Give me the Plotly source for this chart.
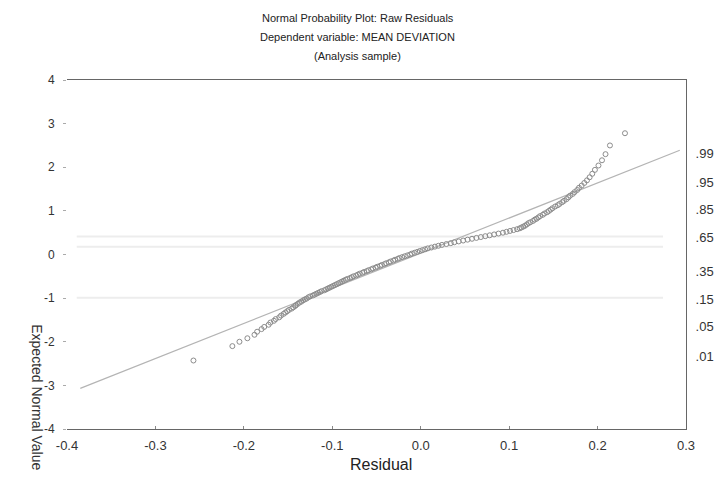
import plotly.graph_objects as go

# Residuals (x) and expected normal values (y)
residuals = [-0.257, -0.213, -0.205, -0.196, -0.188, -0.185, -0.180, -0.177, -0.172, -0.170,
             -0.166, -0.164, -0.160, -0.158, -0.155, -0.153, -0.151, -0.149, -0.146, -0.144,
             -0.142, -0.141, -0.139, -0.137, -0.135, -0.133, -0.131, -0.129, -0.127, -0.125,
             -0.122, -0.120, -0.118, -0.116, -0.114, -0.112, -0.109, -0.107, -0.105, -0.103,
             -0.101, -0.099, -0.097, -0.095, -0.093, -0.091, -0.089, -0.087, -0.085, -0.083,
             -0.080, -0.078, -0.076, -0.073, -0.071, -0.069, -0.066, -0.064, -0.061, -0.059,
             -0.056, -0.054, -0.051, -0.049, -0.046, -0.044, -0.041, -0.039, -0.036, -0.034,
             -0.031, -0.029, -0.026, -0.024, -0.021, -0.018, -0.015, -0.012, -0.010, -0.007,
             -0.004, -0.001, 0.002, 0.005, 0.008, 0.012, 0.016, 0.020, 0.024, 0.029,
             0.034, 0.038, 0.043, 0.048, 0.053, 0.058, 0.063, 0.068, 0.073, 0.078,
             0.083, 0.088, 0.093, 0.097, 0.101, 0.105, 0.109, 0.112, 0.114, 0.116,
             0.118, 0.120, 0.122, 0.124, 0.127, 0.129, 0.131, 0.133, 0.135, 0.138,
             0.140, 0.143, 0.145, 0.147, 0.149, 0.152, 0.155, 0.157, 0.160, 0.162,
             0.165, 0.167, 0.169, 0.172, 0.174, 0.177, 0.179, 0.182, 0.185, 0.188,
             0.191, 0.194, 0.197, 0.201, 0.205, 0.209, 0.214, 0.231]
expected = [-2.43, -2.10, -2.00, -1.92, -1.84, -1.77, -1.71, -1.66, -1.61, -1.56,
            -1.52, -1.48, -1.44, -1.40, -1.36, -1.33, -1.30, -1.27, -1.24, -1.21,
            -1.18, -1.16, -1.13, -1.10, -1.08, -1.05, -1.03, -1.01, -0.98, -0.96,
            -0.94, -0.92, -0.90, -0.88, -0.86, -0.84, -0.82, -0.80, -0.78, -0.76,
            -0.74, -0.72, -0.70, -0.68, -0.66, -0.64, -0.62, -0.60, -0.58, -0.56,
            -0.54, -0.52, -0.50, -0.48, -0.46, -0.44, -0.42, -0.40, -0.38, -0.36,
            -0.34, -0.32, -0.30, -0.28, -0.26, -0.24, -0.22, -0.20, -0.18, -0.16,
            -0.14, -0.12, -0.10, -0.08, -0.06, -0.04, -0.02, 0.00, 0.02, 0.04,
            0.06, 0.08, 0.10, 0.12, 0.14, 0.16, 0.18, 0.20, 0.22, 0.24,
            0.26, 0.28, 0.30, 0.32, 0.34, 0.36, 0.38, 0.40, 0.42, 0.44,
            0.46, 0.48, 0.50, 0.52, 0.54, 0.56, 0.58, 0.60, 0.62, 0.64,
            0.66, 0.69, 0.72, 0.74, 0.77, 0.80, 0.82, 0.85, 0.88, 0.91,
            0.94, 0.97, 1.00, 1.03, 1.06, 1.10, 1.13, 1.16, 1.20, 1.23,
            1.27, 1.31, 1.35, 1.39, 1.43, 1.48, 1.53, 1.58, 1.64, 1.70,
            1.77, 1.85, 1.94, 2.04, 2.16, 2.30, 2.50, 2.78]

fit_x = [-0.385, 0.293]
fit_y = [-3.07, 2.39]

x_ticks = [-0.4, -0.3, -0.2, -0.1, 0.0, 0.1, 0.2, 0.3]
x_tick_labels = ["-0.4", "-0.3", "-0.2", "-0.1", "0.0", "0.1", "0.2", "0.3"]
y_ticks = [-4, -3, -2, -1, 0, 1, 2, 3, 4]
y_tick_labels = ["-4", "-3", "-2", "-1", "0", "1", "2", "3", "4"]
prob_labels = [".99", ".95", ".85", ".65", ".35", ".15", ".05", ".01"]
prob_z = [2.326, 1.645, 1.036, 0.385, -0.385, -1.036, -1.645, -2.326]

faint_y = [0.41, 0.18, -0.99]
faint_x = [-0.389, 0.274]

title_lines = ["Normal Probability Plot: Raw Residuals",
               "Dependent variable: MEAN DEVIATION",
               "(Analysis sample)"]

FONT = "Liberation Sans, Arial, sans-serif"

fig = go.Figure()

fig.add_trace(go.Scatter(x=fit_x, y=fit_y, mode="lines",
                         line=dict(color="#b4b4b4", width=1.2),
                         hoverinfo="skip", showlegend=False))
fig.add_trace(go.Scatter(x=residuals, y=expected, mode="markers",
                         marker=dict(symbol="circle-open", size=5,
                                     color="#8c8c8c", line=dict(width=1)),
                         showlegend=False))
# invisible trace to anchor the right probability axis
fig.add_trace(go.Scatter(x=fit_x, y=fit_y, yaxis="y2", mode="lines",
                         opacity=0, hoverinfo="skip", showlegend=False))

for fy in faint_y:
    fig.add_shape(type="line", xref="x", yref="y", x0=faint_x[0], x1=faint_x[1],
                  y0=fy, y1=fy, line=dict(color="#ededed", width=2), layer="below")

title_y = [1.1777, 1.1232, 1.0688]
for txt, ty in zip(title_lines, title_y):
    fig.add_annotation(text=txt, xref="paper", yref="paper", x=0.47, y=ty,
                       xanchor="center", yanchor="middle", showarrow=False,
                       font=dict(family=FONT, size=11, color="#222"))

fig.add_annotation(text="Residual", xref="paper", yref="paper", x=0.507, y=-0.103,
                   xanchor="center", yanchor="middle", showarrow=False,
                   font=dict(family=FONT, size=16, color="#222"))
fig.add_annotation(text="Expected Normal Value", xref="paper", yref="paper",
                   x=-0.0485, y=0.306, xanchor="center", yanchor="top",
                   textangle=90, showarrow=False,
                   font=dict(family=FONT, size=14, color="#333"))

fig.update_layout(
    width=716, height=479,
    margin=dict(l=67, r=30, t=80, b=50),
    paper_bgcolor="white", plot_bgcolor="white",
    font=dict(family=FONT, color="#333"),
    xaxis=dict(range=[-0.4, 0.3], tickvals=x_ticks, ticktext=x_tick_labels,
               showgrid=False, zeroline=False, showline=True, mirror=True,
               linecolor="#666", linewidth=1, ticks="inside", ticklen=3,
               tickcolor="#888", tickfont=dict(size=13, color="#333"),
               ticklabelstandoff=4, automargin=False),
    yaxis=dict(range=[-4, 4], tickvals=y_ticks, ticktext=y_tick_labels,
               showgrid=False, zeroline=False, automargin=False,
               showline=False, ticks="outside", ticklen=3, tickcolor="#aaa",
               tickfont=dict(size=12, color="#333"), ticklabelstandoff=6),
    yaxis2=dict(range=[-4, 4], overlaying="y", side="right", tickvals=prob_z,
                ticktext=prob_labels, showgrid=False, zeroline=False,
                automargin=False,
                showline=True, linecolor="#666", linewidth=1, ticks="",
                tickfont=dict(size=13, color="#333"), ticklabelstandoff=6),
)

fig.write_html("out.html")
